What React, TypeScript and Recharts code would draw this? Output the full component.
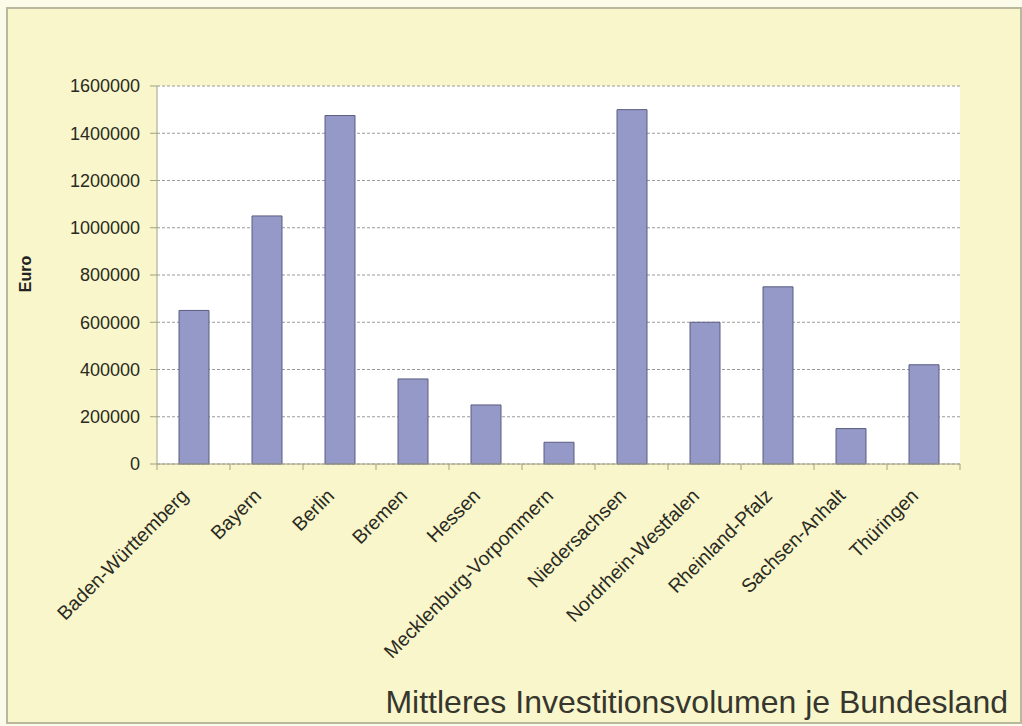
import { BarChart, Bar, XAxis, YAxis, CartesianGrid } from 'recharts';

const laender = [
  'Baden-Württemberg',
  'Bayern',
  'Berlin',
  'Bremen',
  'Hessen',
  'Mecklenburg-Vorpommern',
  'Niedersachsen',
  'Nordrhein-Westfalen',
  'Rheinland-Pfalz',
  'Sachsen-Anhalt',
  'Thüringen',
];

const volumen = [650000, 1050000, 1475000, 360000, 250000, 92000, 1500000, 600000, 750000, 150000, 420000];

const yTicks = [0, 200000, 400000, 600000, 800000, 1000000, 1200000, 1400000, 1600000];

const data = laender.map((name, i) => ({ name, value: volumen[i] }));

const W = 1022;
const H = 726;
const margin = { top: 86, right: 62, left: 77, bottom: 62 };
const yAxisWidth = 80;
const plotWidth = W - margin.left - yAxisWidth - margin.right;
const band = plotWidth / laender.length;

const font = '"Liberation Sans", Arial, sans-serif';
const axisColor = '#a3a283';

function LandTick(props: any) {
  const { x, y, payload, index } = props;
  const left = x - band / 2;
  const ax = x - 4;
  const ay = y + 33;
  return (
    <g>
      <line x1={left} y1={y} x2={left} y2={y + 6} stroke={axisColor} />
      {index === laender.length - 1 && (
        <line x1={x + band / 2} y1={y} x2={x + band / 2} y2={y + 6} stroke={axisColor} />
      )}
      <text
        x={ax}
        y={ay}
        transform={`rotate(-45, ${ax}, ${ay})`}
        textAnchor="end"
        fontSize={19.5}
        fontFamily={font}
        fill="#2a2a22"
      >
        {payload.value}
      </text>
    </g>
  );
}

export default function App() {
  return (
    <div style={{ position: 'absolute', left: 0, top: 0, width: W, height: H, background: '#fbfbea' }}>
      <div
        style={{
          position: 'absolute',
          left: 6,
          top: 7,
          width: 1012,
          height: 713,
          background: '#f8f6ca',
          border: '2px solid #b9b79c',
        }}
      />
      <div
        style={{
          position: 'absolute',
          left: 16,
          top: 274,
          transform: 'translate(-50%, -50%) rotate(-90deg)',
          fontFamily: font,
          fontWeight: 'bold',
          fontSize: 16,
          color: '#222',
          whiteSpace: 'nowrap',
          marginLeft: 10,
        }}
      >
        Euro
      </div>
      <div
        style={{
          position: 'absolute',
          right: 14,
          top: 684,
          fontFamily: font,
          fontSize: 32,
          color: '#36362e',
          whiteSpace: 'nowrap',
        }}
      >
        Mittleres Investitionsvolumen je Bundesland
      </div>
      <div style={{ position: 'absolute', left: 0, top: 0 }}>
        <BarChart width={W} height={H} data={data} margin={margin}>
          <CartesianGrid
            vertical={false}
            stroke="#9a9a9a"
            strokeDasharray="3 2"
            fill="#ffffff"
            fillOpacity={1}
          />
          <XAxis
            dataKey="name"
            interval={0}
            height={200}
            tickSize={0}
            tickMargin={0}
            tickLine={false}
            stroke={axisColor}
            tick={<LandTick />}
          />
          <XAxis xAxisId="top" dataKey="name" orientation="top" height={0} tick={false} tickLine={false} stroke={axisColor} />
          <YAxis
            domain={[0, 1600000]}
            ticks={yTicks}
            interval={0}
            width={yAxisWidth}
            tickSize={7}
            tickMargin={10}
            stroke={axisColor}
            tick={{ fontSize: 18, fontFamily: font, fill: '#2a2a22' }}
          />
          <YAxis yAxisId="right" orientation="right" width={0} tick={false} tickLine={false} stroke={axisColor} />
          <Bar dataKey="value" fill="#9499c7" stroke="#5b5c80" strokeWidth={1} barSize={30} isAnimationActive={false} />
        </BarChart>
      </div>
    </div>
  );
}
